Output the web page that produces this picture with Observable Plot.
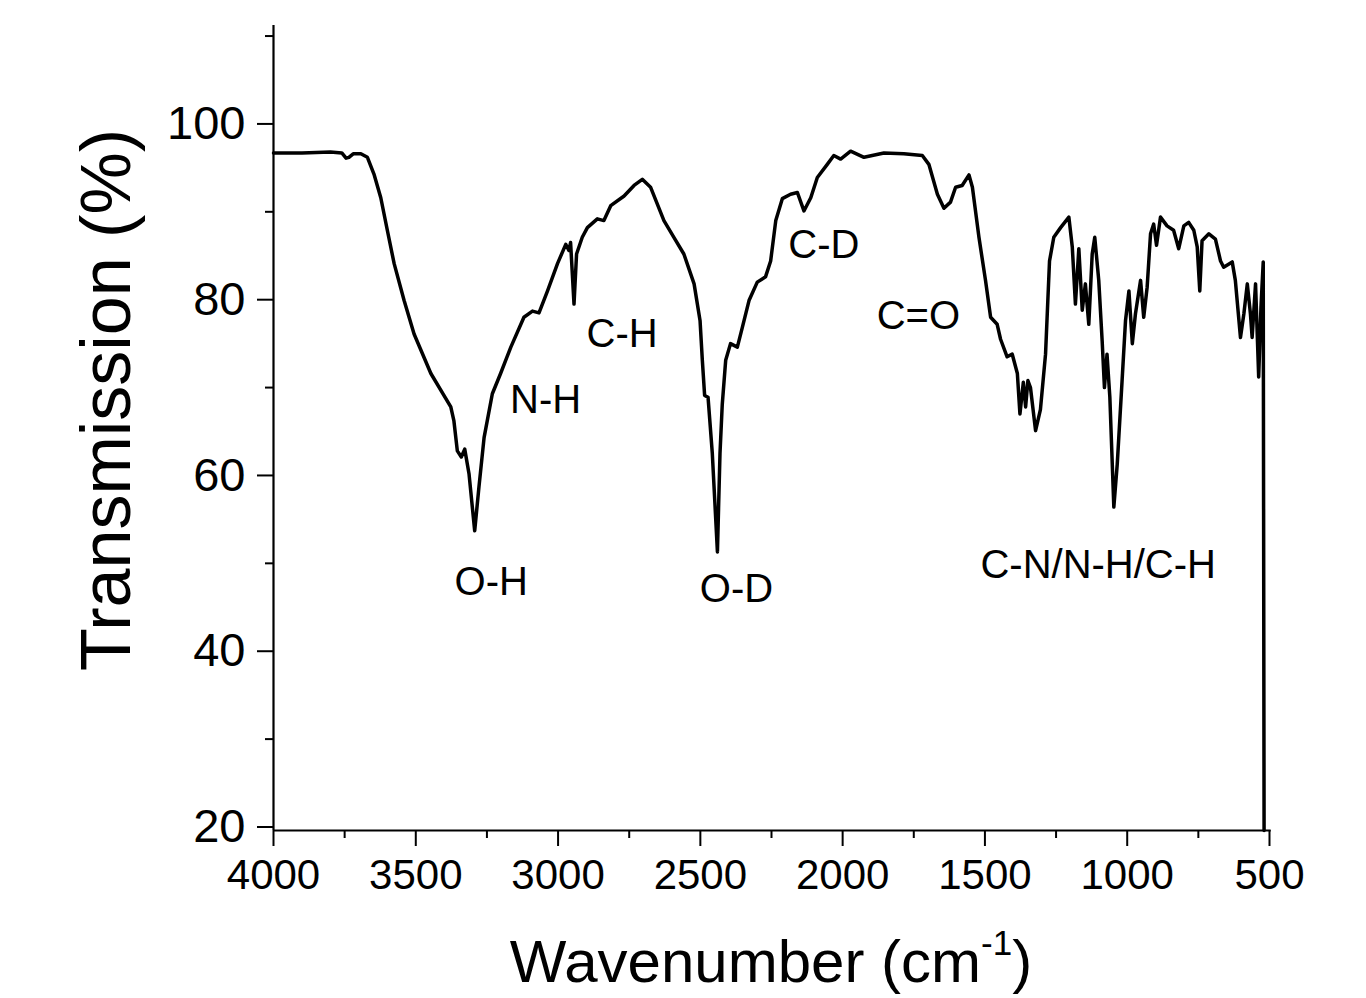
<!DOCTYPE html>
<html><head><meta charset="utf-8">
<script src="https://cdn.jsdelivr.net/npm/d3@7"></script>
<script src="https://cdn.jsdelivr.net/npm/@observablehq/plot@0.6"></script>
<style>body{margin:0;background:#fff;} svg{display:block}</style>
</head><body><div id="chart"></div>
<script>
const wavenumber = [4000,3900,3800,3760,3745,3735,3720,3693,3670,3647,3623,3600,3576,3541,3506,3447,3377,3366,3354,3340,3328,3313,3293,3278,3260,3231,3202,3166,3120,3090,3067,3037,3002,2973,2962,2956,2944,2935,2915,2897,2862,2839,2815,2768,2733,2704,2675,2628,2593,2558,2522,2501,2493,2485,2473,2458,2440,2431,2423,2411,2394,2370,2352,2329,2300,2271,2253,2235,2212,2183,2159,2136,2112,2089,2054,2031,2007,1972,1925,1855,1785,1720,1697,1667,1644,1621,1603,1580,1556,1544,1521,1498,1480,1457,1445,1422,1404,1386,1377,1365,1357,1349,1340,1322,1305,1287,1273,1258,1234,1205,1193,1182,1170,1158,1147,1135,1123,1114,1100,1088,1080,1071,1061,1047,1035,1018,1006,994,982,971,953,942,930,918,907,897,883,860,837,819,801,784,766,754,745,737,713,690,672,661,631,620,602,590,578,567,561,549,538,530,522,519];
const transmission = [96.7,96.7,96.8,96.7,96.1,96.2,96.6,96.6,96.2,94.3,91.6,87.9,84.1,79.9,76.1,71.6,67.8,66.2,62.8,62.1,63.0,60.2,53.7,58.7,64.3,69.3,71.6,74.6,78.0,78.7,78.5,81.0,84.1,86.3,85.6,86.5,79.5,85.2,87.1,88.2,89.2,89.0,90.7,91.8,93.0,93.7,92.8,89.0,87.1,85.2,81.8,77.6,73.1,69.1,68.9,62.5,51.3,62.5,68.1,73.1,75.0,74.6,76.9,79.9,82.0,82.6,84.4,89.0,91.5,92.0,92.2,90.1,91.6,93.9,95.4,96.4,96.0,96.9,96.2,96.7,96.6,96.4,95.4,92.0,90.4,91.1,92.8,93.0,94.2,92.8,87.1,82.2,78.0,77.2,75.5,73.5,73.8,71.6,67.0,70.6,67.8,70.8,70.0,65.1,67.5,73.8,84.4,87.1,88.2,89.4,86.0,79.5,85.8,78.8,81.8,77.2,85.2,87.1,82.2,75.3,70.0,73.8,68.9,56.4,61.3,70.8,77.6,81.0,75.0,78.4,82.2,78.0,81.4,87.5,88.6,86.2,89.4,88.4,87.9,85.8,88.4,88.8,87.9,86.0,81.0,86.7,87.5,86.9,84.4,83.7,84.3,82.2,75.7,78.4,81.8,78.4,75.7,81.8,71.2,79.1,84.3,19.6];

const xTicks = [4000,3500,3000,2500,2000,1500,1000,500];
const xMinorTicks = [3750,3250,2750,2250,1750,1250,750];
const yTicks = [20,40,60,80,100];
const yMinorTicks = [30,50,70,90,110];

const bandLabels = ["O-H","N-H","C-H","O-D","C-D","C=O","C-N/N-H/C-H"];
const bandX = [3235,3044,2775,2373,2066,1734,1102];
const bandY = [46.4,67.1,74.6,45.6,84.8,76.7,48.35];

const xDomain = [4000, 494];
const yDomain = [19.6, 111.2];

const spectrum = wavenumber.map((w, i) => ({w, t: transmission[i]}));
const labels = bandLabels.map((text, i) => ({text, w: bandX[i], t: bandY[i]}));

const plot = Plot.plot({
  width: 1366, height: 998,
  marginLeft: 273, marginRight: 95.3, marginTop: 25, marginBottom: 168,
  style: {fontFamily: "'Liberation Sans', Arial, sans-serif", color: "#000", background: "#fff"},
  x: {domain: xDomain, label: null},
  y: {domain: yDomain, label: null},
  marks: [
    Plot.axisX(xTicks, {tickSize: 16, tickPadding: 13, fontSize: 42, strokeWidth: 2, tickFormat: "d", label: null}),
    Plot.axisX(xMinorTicks, {tickSize: 8, strokeWidth: 2, fill: "none", label: null}),
    Plot.axisY(yTicks, {tickSize: 16, tickPadding: 12, fontSize: 47, strokeWidth: 2, tickFormat: "d", label: null}),
    Plot.axisY(yMinorTicks, {tickSize: 8, strokeWidth: 2, fill: "none", label: null}),
    Plot.ruleX([xDomain[0]], {strokeWidth: 2.2}),
    Plot.ruleY([yDomain[0]], {strokeWidth: 2.2}),
    Plot.line(spectrum, {x: "w", y: "t", stroke: "#000", strokeWidth: 3.5, strokeLinejoin: "round"}),
    Plot.text(labels, {x: "w", y: "t", text: "text", fontSize: 40, lineAnchor: "bottom", textAnchor: "middle", fill: "#000"})
  ]
});

const svg = d3.select(plot);
const xl = svg.append("text")
  .attr("x", 771).attr("y", 982)
  .attr("text-anchor", "middle")
  .attr("font-size", 60)
  .attr("fill", "#000");
xl.append("tspan").text("Wavenumber (cm");
xl.append("tspan").attr("font-size", 35).attr("dy", -27).text("-1");
xl.append("tspan").attr("dy", 27).text(")");

svg.append("text")
  .attr("transform", "translate(130,400) rotate(-90)")
  .attr("text-anchor", "middle")
  .attr("font-size", 70)
  .attr("fill", "#000")
  .text("Transmission (%)");

document.getElementById("chart").appendChild(plot);
</script>
</body></html>
